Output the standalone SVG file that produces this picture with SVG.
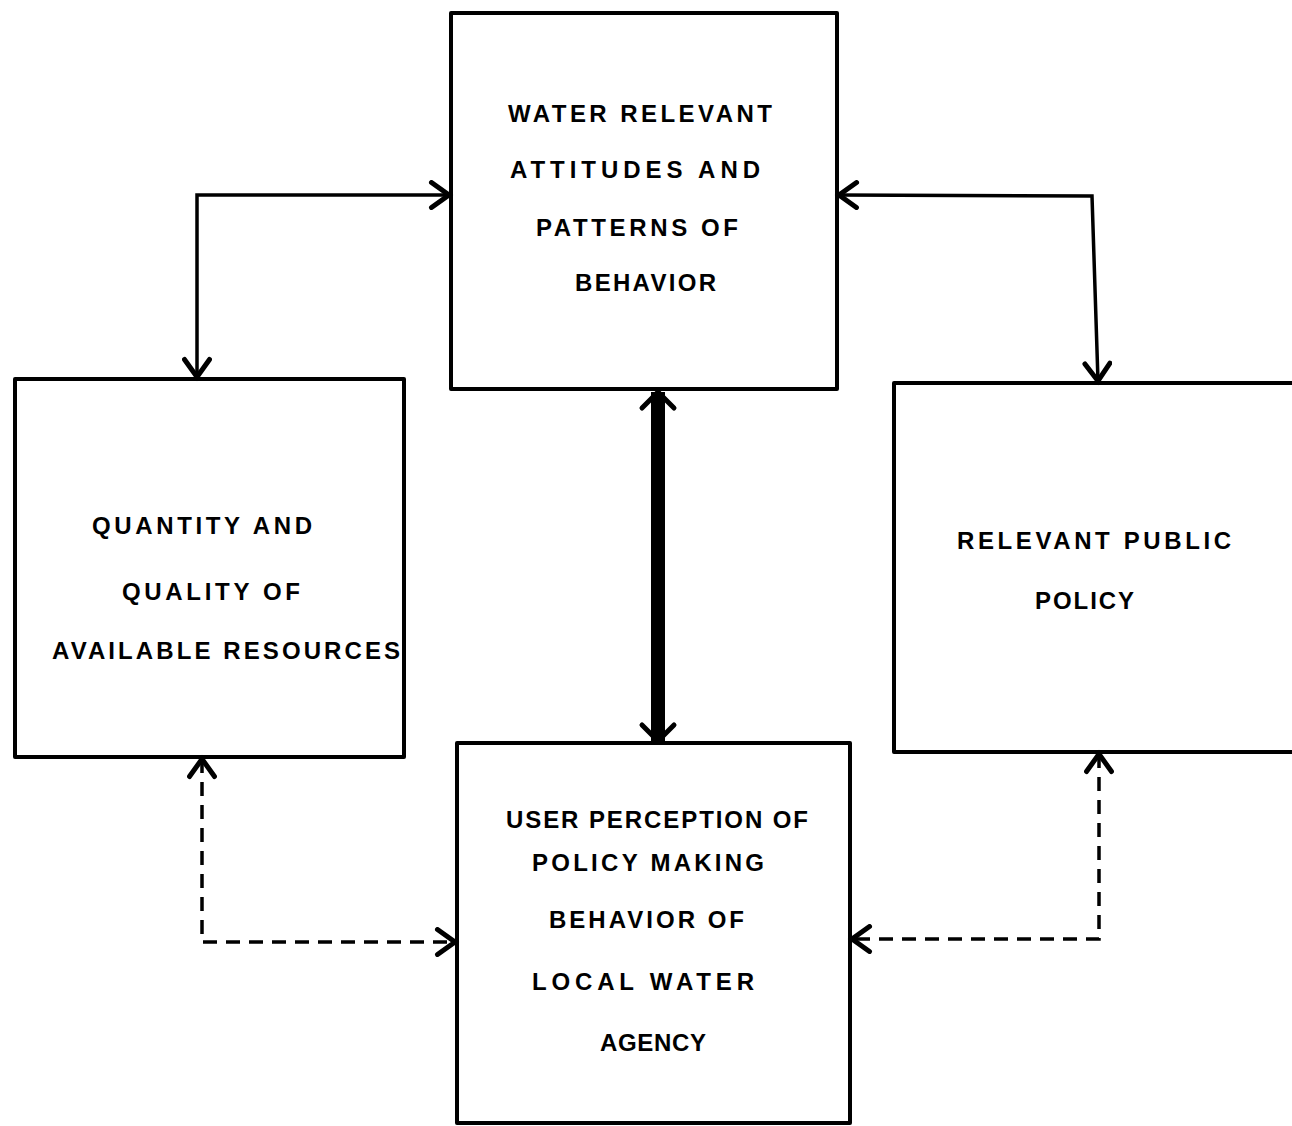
<svg xmlns="http://www.w3.org/2000/svg" width="1292" height="1126" viewBox="0 0 1292 1126">
<style>
.box{fill:none;stroke:#000;stroke-width:4;stroke-linejoin:round}
.t{font-family:"Liberation Sans",Arial,sans-serif;font-weight:bold;font-size:24px;fill:#000}
.c{fill:none;stroke:#000;stroke-width:3.5}
.d{stroke-dasharray:14,9}
.thick{fill:none;stroke:#000;stroke-width:14}
</style>
<defs>
<marker id="ah" markerUnits="userSpaceOnUse" markerWidth="30" markerHeight="30" refX="20" refY="12" orient="auto-start-reverse" viewBox="0 0 24 24">
<path d="M6,2 L20,12 L6,22" fill="none" stroke="#000" stroke-width="4" stroke-linecap="round"/>
</marker>
<marker id="ahb" markerUnits="userSpaceOnUse" markerWidth="40" markerHeight="40" refX="24" refY="20" orient="auto-start-reverse" viewBox="0 0 40 40">
<path d="M8,4 L24,20 L8,36" fill="none" stroke="#000" stroke-width="5" stroke-linecap="round"/>
</marker>
</defs>
<rect width="1292" height="1126" fill="#fff"/>
<g id="connectors">
<polyline class="c" points="197,377 197,195 449,195" marker-start="url(#ah)" marker-end="url(#ah)"/>
<polyline class="c" points="839,195 1092,196 1098,381" marker-start="url(#ah)" marker-end="url(#ah)"/>
<line class="thick" x1="658" y1="392" x2="658" y2="741" marker-start="url(#ahb)" marker-end="url(#ahb)"/>
<polyline class="c d" points="202,759 202,942 455,942" marker-start="url(#ah)" marker-end="url(#ah)"/>
<polyline class="c d" points="1099,754 1099,939 852,939" marker-start="url(#ah)" marker-end="url(#ah)"/>
</g>
<g id="n_attitudes">
<rect class="box" x="451" y="13" width="386" height="376"/>
<text class="t" x="508" y="122" textLength="264" lengthAdjust="spacing">WATER RELEVANT</text>
<text class="t" x="510" y="178" textLength="250" lengthAdjust="spacing">ATTITUDES AND</text>
<text class="t" x="536" y="236" textLength="202" lengthAdjust="spacing">PATTERNS OF</text>
<text class="t" x="575" y="291" textLength="141" lengthAdjust="spacing">BEHAVIOR</text>
</g>
<g id="n_resources">
<rect class="box" x="15" y="379" width="389" height="378"/>
<text class="t" x="92" y="534" textLength="220" lengthAdjust="spacing">QUANTITY AND</text>
<text class="t" x="122" y="600" textLength="178" lengthAdjust="spacing">QUALITY OF</text>
<text class="t" x="52" y="659" textLength="348" lengthAdjust="spacing">AVAILABLE RESOURCES</text>
</g>
<g id="n_policy">
<rect class="box" x="894" y="383" width="410" height="369"/>
<text class="t" x="957" y="549" textLength="274" lengthAdjust="spacing">RELEVANT PUBLIC</text>
<text class="t" x="1035" y="609" textLength="99" lengthAdjust="spacing">POLICY</text>
</g>
<g id="n_perception">
<rect class="box" x="457" y="743" width="393" height="380"/>
<text class="t" x="506" y="828" textLength="302" lengthAdjust="spacing">USER PERCEPTION OF</text>
<text class="t" x="532" y="871" textLength="232" lengthAdjust="spacing">POLICY MAKING</text>
<text class="t" x="549" y="928" textLength="195" lengthAdjust="spacing">BEHAVIOR OF</text>
<text class="t" x="532" y="990" textLength="222" lengthAdjust="spacing">LOCAL WATER</text>
<text class="t" x="600" y="1051" textLength="106" lengthAdjust="spacing">AGENCY</text>
</g>
</svg>
